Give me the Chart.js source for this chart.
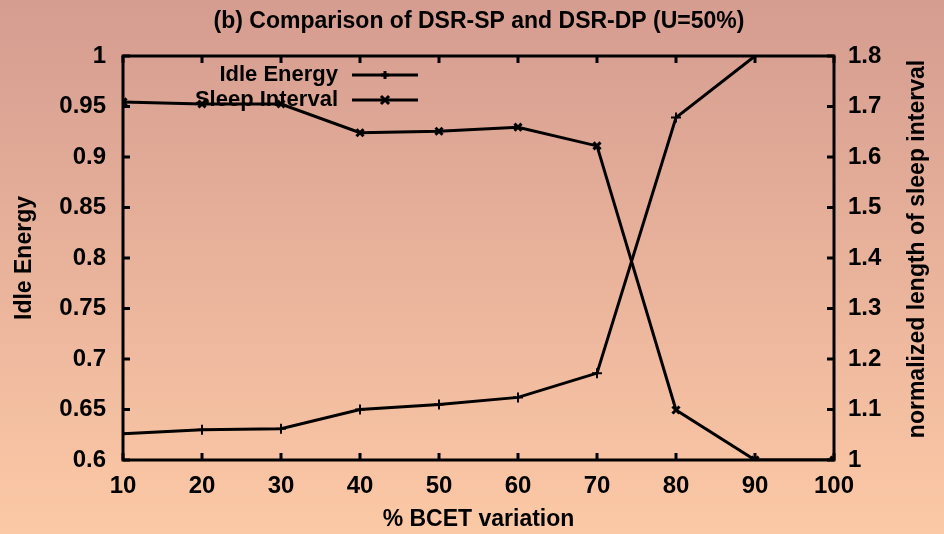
<!DOCTYPE html>
<html>
<head>
<meta charset="utf-8">
<script src="https://cdn.jsdelivr.net/npm/chart.js@4.4.1/dist/chart.umd.min.js"></script>
<style>
html,body{margin:0;padding:0;background:#e8b49c;}
#c{display:block;}
</style>
</head>
<body>
<canvas id="c" width="944" height="534"></canvas>
<script>
const titleText = "(b) Comparison of DSR-SP and DSR-DP (U=50%)";
const xTitle = "% BCET variation";
const yTitle = "Idle Energy";
const y1Title = "normalized length of sleep interval";
const bcet = [10, 20, 30, 40, 50, 60, 70, 80, 90, 100];
const idleEnergy = [0.626, 0.630, 0.631, 0.650, 0.655, 0.662, 0.686, 0.939, 1.0];
const sleepInterval = [1.709, 1.705, 1.705, 1.648, 1.651, 1.659, 1.622, 1.099, 1.0, 1.0];
const xTicks = [10, 20, 30, 40, 50, 60, 70, 80, 90, 100];
const yTicks = [0.6, 0.65, 0.7, 0.75, 0.8, 0.85, 0.9, 0.95, 1];
const y1Ticks = [1, 1.1, 1.2, 1.3, 1.4, 1.5, 1.6, 1.7, 1.8];
const legendLabels = ["Idle Energy", "Sleep Interval"];

const FONT = "'Liberation Sans',Arial,sans-serif";

const bgPlugin = {
  id: 'bg',
  beforeDraw(chart) {
    const ctx = chart.ctx;
    const g = ctx.createLinearGradient(0, 0, 0, chart.height);
    g.addColorStop(0, '#d59c90');
    g.addColorStop(1, '#fcc9a6');
    ctx.save();
    ctx.fillStyle = g;
    ctx.fillRect(0, 0, chart.width, chart.height);
    ctx.restore();
  }
};

function fmtTick(v) {
  return String(Math.round(v * 1000) / 1000);
}

const framePlugin = {
  id: 'frame',
  afterDraw(chart) {
    const ctx = chart.ctx;
    const a = chart.chartArea;
    const sx = chart.scales.x, sy = chart.scales.y, sy1 = chart.scales.y1;
    ctx.save();
    ctx.strokeStyle = '#000';
    ctx.lineWidth = 3;
    ctx.strokeRect(a.left, a.top, a.right - a.left, a.bottom - a.top);
    const tl = 7;
    ctx.beginPath();
    xTicks.forEach(v => {
      const px = sx.getPixelForValue(v);
      ctx.moveTo(px, a.bottom); ctx.lineTo(px, a.bottom - tl);
      ctx.moveTo(px, a.top); ctx.lineTo(px, a.top + tl);
    });
    yTicks.forEach(v => {
      const py = sy.getPixelForValue(v);
      ctx.moveTo(a.left, py); ctx.lineTo(a.left + tl, py);
    });
    y1Ticks.forEach(v => {
      const py = sy1.getPixelForValue(v);
      ctx.moveTo(a.right, py); ctx.lineTo(a.right - tl, py);
    });
    ctx.stroke();

    // title
    ctx.fillStyle = '#000';
    ctx.font = "bold 23px " + FONT;
    ctx.textAlign = 'center';
    ctx.textBaseline = 'middle';
    ctx.fillText(titleText, 479, 22);

    // right axis title (reads bottom to top)
    ctx.save();
    ctx.translate(918, (a.top + a.bottom) / 2 - 9);
    ctx.rotate(-Math.PI / 2);
    ctx.font = "bold 23px " + FONT;
    ctx.fillText(y1Title, 0, 0);
    ctx.restore();

    // legend
    ctx.font = "bold 22px " + FONT;
    ctx.textAlign = 'right';
    ctx.textBaseline = 'middle';
    const ly = [75, 100];
    legendLabels.forEach((t, i) => {
      ctx.fillText(t, 338, ly[i]);
      ctx.beginPath();
      ctx.moveTo(352, ly[i]); ctx.lineTo(418, ly[i]);
      ctx.stroke();
      const mx = 385, my = ly[i], r = 4;
      ctx.beginPath();
      if (i === 0) {
        ctx.moveTo(mx - r, my); ctx.lineTo(mx + r, my);
        ctx.moveTo(mx, my - r); ctx.lineTo(mx, my + r);
      } else {
        ctx.moveTo(mx - r, my - r); ctx.lineTo(mx + r, my + r);
        ctx.moveTo(mx - r, my + r); ctx.lineTo(mx + r, my - r);
      }
      ctx.stroke();
    });
    ctx.restore();
  }
};

const tickFont = { family: FONT, size: 24, weight: 'bold' };
const titleFont = { family: FONT, size: 23, weight: 'bold' };

new Chart(document.getElementById('c'), {
  type: 'line',
  data: {
    datasets: [
      {
        label: legendLabels[0],
        data: idleEnergy.map((v, i) => ({ x: bcet[i], y: v })),
        yAxisID: 'y',
        borderColor: '#000',
        backgroundColor: '#000',
        borderWidth: 3,
        pointStyle: 'cross',
        pointRadius: 5,
        pointBorderWidth: 2,
        pointBorderColor: '#000',
        tension: 0,
        fill: false
      },
      {
        label: legendLabels[1],
        data: sleepInterval.map((v, i) => ({ x: bcet[i], y: v })),
        yAxisID: 'y1',
        borderColor: '#000',
        backgroundColor: '#000',
        borderWidth: 3,
        pointStyle: 'crossRot',
        pointRadius: 5,
        pointBorderWidth: 3,
        pointBorderColor: '#000',
        tension: 0,
        fill: false
      }
    ]
  },
  options: {
    responsive: false,
    animation: false,
    devicePixelRatio: 1,
    layout: { padding: { top: 56, left: 0, right: 0, bottom: 0 } },
    plugins: { legend: { display: false }, title: { display: false }, tooltip: { enabled: false } },
    scales: {
      x: {
        type: 'linear',
        min: 10, max: 100,
        afterFit(s) { s.height = 74; },
        afterBuildTicks(s) { s.ticks = xTicks.map(v => ({ value: v })); },
        grid: { display: false, drawTicks: false },
        border: { display: false },
        ticks: { color: '#000', font: tickFont, padding: 12, maxRotation: 0, autoSkip: false, callback: v => fmtTick(v) },
        title: { display: true, text: xTitle, color: '#000', font: titleFont, padding: { top: 0, bottom: 1 } }
      },
      y: {
        type: 'linear',
        position: 'left',
        min: 0.6, max: 1,
        afterFit(s) { s.width = 123; },
        afterBuildTicks(s) { s.ticks = yTicks.map(v => ({ value: v })); },
        grid: { display: false, drawTicks: false },
        border: { display: false },
        ticks: { color: '#000', font: tickFont, padding: 17, autoSkip: false, callback: v => fmtTick(v) },
        title: { display: true, text: yTitle, color: '#000', font: titleFont, padding: { top: 11, bottom: 0 } }
      },
      y1: {
        type: 'linear',
        position: 'right',
        min: 1, max: 1.8,
        afterFit(s) { s.width = 110; },
        afterBuildTicks(s) { s.ticks = y1Ticks.map(v => ({ value: v })); },
        grid: { display: false, drawTicks: false },
        border: { display: false },
        ticks: { color: '#000', font: tickFont, padding: 14, autoSkip: false, callback: v => fmtTick(v) }
      }
    }
  },
  plugins: [bgPlugin, framePlugin]
});
</script>
</body>
</html>
